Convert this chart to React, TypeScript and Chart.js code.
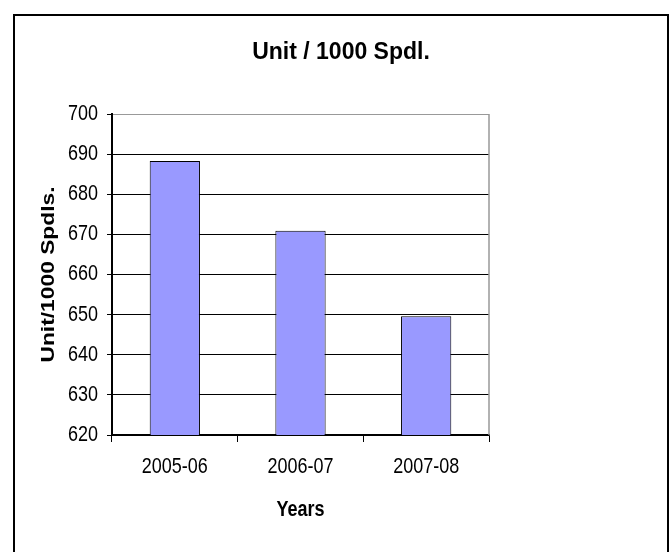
import React, { useEffect, useRef } from 'react';
import { Chart, registerables } from 'chart.js';

Chart.register(...registerables);

const categories = ['2005-06', '2006-07', '2007-08'];
const values = [688.3, 670.9, 649.6];
const yMin = 620;
const yMax = 700;
const yStep = 10;
const chartTitle = 'Unit / 1000 Spdl.';
const xTitle = 'Years';
const yTitle = 'Unit/1000 Spdls.';

const FONT = "'Liberation Sans', Arial, Helvetica, sans-serif";
const TEXT_STRETCH = 1.2;

let origFillText: any = null;

const titlePlugin = {
  id: 'customTitle',
  afterDraw(chart: any) {
    const ctx = chart.ctx;
    ctx.save();
    ctx.font = `bold 23px ${FONT}`;
    ctx.fillStyle = '#000';
    ctx.textAlign = 'center';
    ctx.textBaseline = 'middle';
    if (origFillText) origFillText.call(ctx, chartTitle, 341, 53);
    else ctx.fillText(chartTitle, 341, 53);
    ctx.restore();
  },
};

const plotBorderPlugin = {
  id: 'plotBorder',
  afterDraw(chart: any) {
    const { ctx, chartArea } = chart;
    ctx.save();
    ctx.strokeStyle = '#999';
    ctx.lineWidth = 1.5;
    ctx.beginPath();
    ctx.moveTo(chartArea.right, chartArea.top);
    ctx.lineTo(chartArea.right, chartArea.bottom);
    ctx.stroke();
    ctx.restore();
  },
};

function patchContext(ctx: any) {
  if (ctx.__patched) return;
  ctx.__patched = true;
  const orig = ctx.fillText;
  origFillText = orig;
  ctx.fillText = function (text: string, x: number, y: number, maxWidth?: number) {
    const m = this.getTransform();
    const p = m.transformPoint(new DOMPoint(x, y));
    const s = new DOMMatrix()
      .translate(p.x, p.y)
      .scale(1, TEXT_STRETCH)
      .translate(-p.x, -p.y)
      .multiply(m);
    this.save();
    this.setTransform(s);
    if (maxWidth === undefined) orig.call(this, text, x, y);
    else orig.call(this, text, x, y, maxWidth);
    this.restore();
  };
}

export default function App() {
  const ref = useRef<HTMLCanvasElement | null>(null);

  useEffect(() => {
    if (!ref.current) return;
    const ctx2d = ref.current.getContext('2d');
    if (ctx2d) patchContext(ctx2d);
    const chart = new Chart(ref.current, {
      type: 'bar',
      data: {
        labels: categories,
        datasets: [
          {
            data: values,
            backgroundColor: '#9999FF',
            borderColor: '#000',
            borderWidth: 1,
            categoryPercentage: 1,
            barPercentage: 0.4,
          },
        ],
      },
      options: {
        animation: false,
        responsive: false,
        devicePixelRatio: 1,
        layout: { padding: { left: 37, top: 114, right: 182, bottom: 31 } },
        plugins: {
          legend: { display: false },
          title: { display: false },
          tooltip: { enabled: false },
        },
        scales: {
          x: {
            afterFit(scale: any) {
              scale.height = 86;
            },
            grid: {
              display: true,
              drawOnChartArea: false,
              drawTicks: true,
              tickLength: 7,
              color: '#000',
              offset: true,
            },
            border: { display: true, color: '#000', width: 1.5 },
            ticks: {
              color: '#000',
              font: { family: FONT, size: 18 },
              padding: 14,
              maxRotation: 0,
            },
            title: {
              display: true,
              text: xTitle,
              color: '#000',
              font: { family: FONT, size: 18, weight: 'bold' },
              padding: 0,
            },
          },
          y: {
            min: yMin,
            max: yMax,
            afterFit(scale: any) {
              scale.width = 75;
            },
            grid: {
              color: (c: any) => (c.tick && c.tick.value === yMax ? '#999' : '#000'),
              tickColor: '#000',
              tickLength: 5,
              lineWidth: 1,
            },
            border: { display: true, color: '#000', width: 2 },
            ticks: {
              stepSize: yStep,
              color: '#000',
              font: { family: FONT, size: 18 },
              padding: 9,
            },
            title: {
              display: true,
              text: yTitle,
              color: '#000',
              font: { family: FONT, size: 19, weight: 'bold' },
              padding: 0,
            },
          },
        },
      },
      plugins: [titlePlugin, plotBorderPlugin],
    } as any);
    return () => chart.destroy();
  }, []);

  return (
    <div
      style={{
        position: 'fixed',
        left: 0,
        top: 0,
        width: 671,
        height: 552,
        overflow: 'hidden',
        background: '#fff',
      }}
    >
      <canvas ref={ref} width={671} height={552} style={{ display: 'block', width: 671, height: 552 }} />
      <div
        style={{
          position: 'absolute',
          left: 13,
          top: 14,
          width: 652,
          height: 560,
          border: '2px solid #000',
          borderBottom: 'none',
          pointerEvents: 'none',
        }}
      />
    </div>
  );
}
